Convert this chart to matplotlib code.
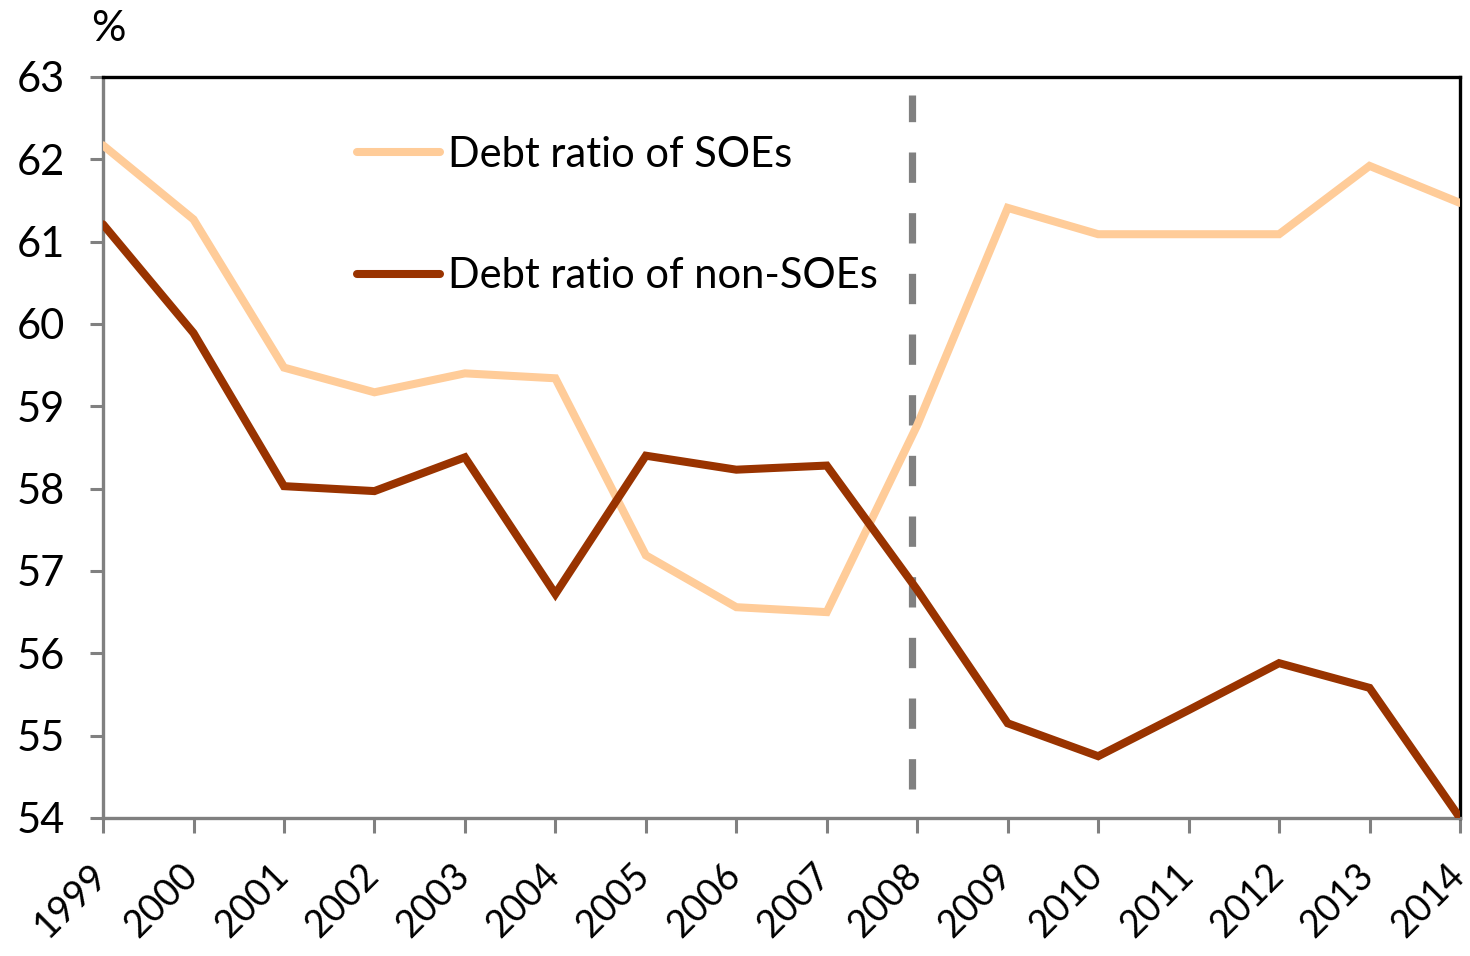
import matplotlib
matplotlib.use("Agg")
import matplotlib.pyplot as plt
from matplotlib.transforms import ScaledTranslation

years = list(range(1999, 2015))
soe_ratio = [62.17, 61.27, 59.47, 59.17, 59.40, 59.34, 57.19, 56.56,
             56.50, 58.77, 61.41, 61.09, 61.09, 61.09, 61.92, 61.47]
non_soe_ratio = [61.21, 59.89, 58.03, 57.97, 58.38, 56.72, 58.40, 58.23,
                 58.28, 56.77, 55.15, 54.75, 55.31, 55.88, 55.58, 54.00]
y_ticks = list(range(54, 64))
crisis_year = 2008

plt.rcParams['font.family'] = ['Lato', 'DejaVu Sans']

fig = plt.figure(figsize=(14.7, 9.56), dpi=100)
ax = fig.add_axes([0.0701, 0.1444, 0.9231, 0.7751])

soe_color = '#FFCC99'
non_soe_color = '#993300'
ax.plot(years, soe_ratio, color=soe_color, lw=5.8, solid_capstyle='round',
        solid_joinstyle='miter', label='Debt ratio of SOEs', zorder=3)
ax.plot(years, non_soe_ratio, color=non_soe_color, lw=5.8, solid_capstyle='round',
        solid_joinstyle='miter', label='Debt ratio of non-SOEs', zorder=3)

# dashed marker for the 2008 financial crisis
ax.vlines(crisis_year - 0.06, 54.35, 62.78, colors='#808080', lw=5.2,
          linestyles=(0, (4.2, 4.2)), zorder=2)

ax.set_xlim(1999, 2014)
ax.set_ylim(54, 63)
ax.set_xticks(years)
ax.set_xticklabels([str(y) for y in years], rotation=45, ha='right',
                   rotation_mode='anchor', fontsize=27)
ax.set_yticks(y_ticks)
ax.set_yticklabels([str(v) for v in y_ticks], fontsize=30)

ax.tick_params(axis='y', length=9.5, width=2.2, color='#808080', pad=18)
ax.tick_params(axis='x', length=11, width=2.2, color='#808080', pad=17)

shift = ScaledTranslation(-14 / 100, 0, fig.dpi_scale_trans)
for lbl in ax.xaxis.get_majorticklabels():
    lbl.set_transform(lbl.get_transform() + shift)

for side in ('left', 'bottom'):
    ax.spines[side].set_color('#808080')
    ax.spines[side].set_linewidth(2.4)
for side in ('top', 'right'):
    ax.spines[side].set_color('black')
    ax.spines[side].set_linewidth(2.4)

leg = ax.legend(loc='upper left', bbox_to_anchor=(0.187, 0.9204), frameon=False,
                fontsize=30, handlelength=2.0, handletextpad=0.19,
                labelspacing=2.0, borderaxespad=0, borderpad=0)

fig.text(0.0735, 0.970, '%', fontsize=31, ha='center', va='center')

fig.savefig('out.png', dpi=100)
